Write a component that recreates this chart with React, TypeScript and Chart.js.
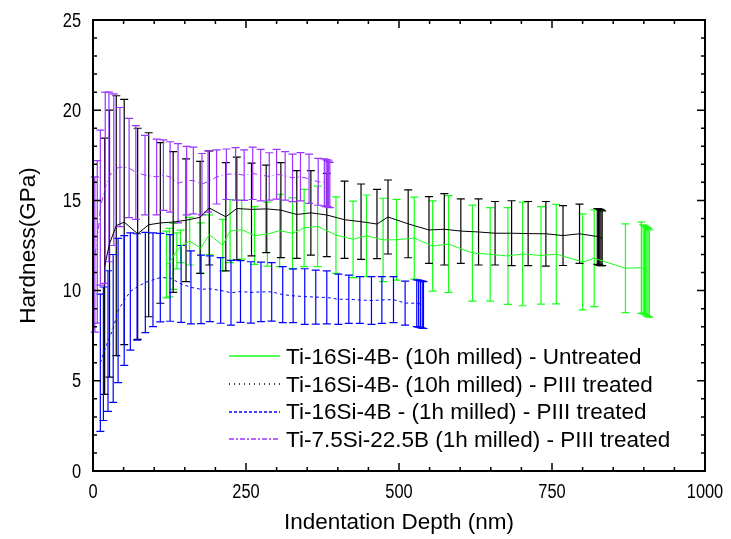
import React, { useEffect, useRef } from "react";
import { Chart, registerables } from "chart.js";
Chart.register(...registerables);

const xTicks = [0, 250, 500, 750, 1000];
const yTicks = [0, 5, 10, 15, 20, 25];
const xTitle = "Indentation Depth (nm)";
const yTitle = "Hardness(GPa)";

const seriesNames = [
  "Ti-16Si-4B- (10h milled) - Untreated",
  "Ti-16Si-4B- (10h milled) - PIII treated",
  "Ti-16Si-4B - (1h milled) - PIII treated",
  "Ti-7.5Si-22.5B (1h milled) - PIII treated",
];

const greenX = [120, 125, 131, 137, 143, 158, 176, 190, 212, 224, 243, 264, 285, 305, 326, 345, 367, 397, 425, 447, 474, 496, 525, 555, 581, 620, 649, 678, 702, 732, 757, 800, 819, 870, 896, 899, 901, 903, 905, 907, 909];
const greenY = [11.45, 11.55, 11.9, 12.2, 12.45, 12.74, 12.35, 13.1, 12.52, 13.3, 13.38, 13.05, 13.13, 13.33, 13.17, 13.47, 13.56, 13.08, 12.84, 13.04, 12.81, 12.82, 12.91, 12.47, 12.58, 12.08, 12.01, 11.92, 12.03, 11.95, 12.02, 11.59, 11.79, 11.24, 11.27, 11.2, 11.15, 11.1, 11.05, 11.0, 10.95];
const greenErr = [1.85, 1.9, 1.83, 1.0, 0.9, 1.32, 1.4, 1.1, 1.43, 1.75, 1.64, 1.6, 1.77, 2.0, 1.97, 2.14, 2.23, 2.12, 2.12, 2.26, 2.31, 2.24, 2.27, 2.5, 2.68, 2.66, 2.59, 2.68, 2.87, 2.7, 2.76, 2.66, 2.68, 2.46, 2.53, 2.45, 2.45, 2.45, 2.45, 2.45, 2.42];

const blackX = [19, 27, 38, 51, 73, 91, 110, 131, 152, 175, 190, 217, 235, 259, 283, 307, 333, 356, 382, 411, 438, 464, 482, 515, 549, 574, 601, 630, 657, 684, 711, 740, 768, 795, 824, 826, 828, 830, 832];
const blackY = [11.35, 12.6, 13.6, 13.8, 13.15, 13.65, 13.75, 13.8, 13.9, 14.06, 14.58, 14.09, 14.55, 14.5, 14.53, 14.46, 14.22, 14.31, 14.19, 13.93, 13.82, 13.69, 14.08, 13.7, 13.36, 13.4, 13.3, 13.25, 13.18, 13.18, 13.16, 13.15, 13.05, 13.15, 13.0, 12.98, 12.95, 12.93, 12.9];
const blackErr = [7.1, 7.4, 7.2, 6.8, 5.85, 5.1, 4.45, 3.9, 3.4, 3.1, 3.16, 3.0, 2.85, 2.57, 2.43, 2.63, 2.43, 2.34, 2.31, 2.14, 2.09, 1.92, 2.05, 1.88, 1.85, 1.98, 1.79, 1.83, 1.76, 1.8, 1.78, 1.79, 1.66, 1.64, 1.55, 1.55, 1.55, 1.55, 1.52];

const blueX = [12, 17, 24.5, 33, 41, 51, 61, 72, 85.5, 98, 110, 126, 144, 160, 176.5, 191, 208.6, 225.5, 241, 258, 274.5, 292, 310, 327, 346, 364, 382, 401, 418, 436, 455, 472, 491, 510, 529, 532, 535, 538, 540];
const blueY = [6.0, 6.5, 7.2, 7.9, 8.9, 9.45, 9.95, 10.2, 10.45, 10.6, 10.72, 10.7, 10.37, 10.18, 10.07, 10.1, 10.01, 9.88, 9.95, 9.9, 9.93, 9.93, 9.78, 9.71, 9.67, 9.64, 9.62, 9.52, 9.52, 9.48, 9.45, 9.48, 9.5, 9.31, 9.3, 9.28, 9.25, 9.22, 9.2];
const blueErr = [3.8, 3.7, 3.9, 4.1, 4.0, 3.6, 3.25, 2.95, 2.78, 2.6, 2.45, 2.4, 2.13, 2.02, 1.9, 1.82, 1.82, 1.79, 1.71, 1.7, 1.65, 1.62, 1.55, 1.49, 1.54, 1.5, 1.47, 1.39, 1.34, 1.3, 1.32, 1.3, 1.28, 1.22, 1.3, 1.3, 1.3, 1.3, 1.3];

const purpleX = [3, 7, 12, 20, 26, 34, 44, 59, 70, 85, 104, 115, 126, 139, 153, 164, 178, 188, 202, 218, 233, 247, 261, 274, 288, 300, 314, 326, 339, 353, 368, 378, 381, 383, 385, 387];
const purpleY = [12.0, 12.7, 14.6, 15.7, 16.3, 16.7, 16.85, 16.8, 16.55, 16.4, 16.3, 16.4, 16.3, 15.95, 16.1, 16.1, 15.9, 16.05, 16.3, 16.45, 16.47, 16.4, 16.5, 16.4, 16.33, 16.45, 16.36, 16.25, 16.31, 16.2, 16.03, 16.0, 15.95, 15.95, 15.9, 15.85];
const purpleErr = [4.3, 4.5, 4.3, 5.3, 4.7, 4.2, 3.3, 2.75, 2.6, 2.2, 2.1, 1.95, 1.95, 2.2, 1.9, 1.85, 1.7, 1.7, 1.5, 1.4, 1.45, 1.4, 1.45, 1.43, 1.31, 1.38, 1.34, 1.32, 1.34, 1.36, 1.3, 1.3, 1.3, 1.3, 1.28, 1.25];

const colors = ["#1aff1a", "#000000", "#0000ff", "#9933ff"];
const plotDash = [[], [], [3, 3], [6, 3, 1, 3]];
const legendDash = [[], [1, 4], [3, 2], [5, 2, 2, 2]];
const FONT = "'Liberation Sans', Arial, sans-serif";

export default function App() {
  const ref = useRef<HTMLCanvasElement>(null);

  useEffect(() => {
    const pts = (xs: number[], ys: number[]) => xs.map((x, i) => ({ x, y: ys[i] }));
    const errs = [greenErr, blackErr, blueErr, purpleErr];

    const plugin = {
      id: "custom-draw",
      beforeDatasetsDraw(chart: any) {
        const ctx = chart.ctx;
        const xs = chart.scales.x;
        const ys = chart.scales.y;
        ctx.save();
        ctx.lineWidth = 1.2;
        chart.data.datasets.forEach((ds: any, di: number) => {
          ctx.strokeStyle = colors[di];
          ds.data.forEach((p: any, i: number) => {
            const e = errs[di][i];
            const px = xs.getPixelForValue(p.x);
            const top = ys.getPixelForValue(p.y + e);
            const bot = ys.getPixelForValue(p.y - e);
            ctx.beginPath();
            ctx.moveTo(px, top);
            ctx.lineTo(px, bot);
            ctx.moveTo(px - 4, top);
            ctx.lineTo(px + 4, top);
            ctx.moveTo(px - 4, bot);
            ctx.lineTo(px + 4, bot);
            ctx.stroke();
          });
        });
        ctx.restore();
      },
      afterDraw(chart: any) {
        const ctx = chart.ctx;
        const xs = chart.scales.x;
        const ys = chart.scales.y;
        const L = xs.getPixelForValue(0);
        const R = xs.getPixelForValue(1000);
        const T = ys.getPixelForValue(25);
        const B = ys.getPixelForValue(0);
        ctx.save();
        ctx.strokeStyle = "#000";
        ctx.lineWidth = 2;
        ctx.strokeRect(L, T, R - L, B - T);
        ctx.lineWidth = 1.5;
        ctx.beginPath();
        for (let v = 0; v <= 1000; v += 50) {
          const px = xs.getPixelForValue(v);
          const len = v % 250 === 0 ? 8 : 4;
          ctx.moveTo(px, B);
          ctx.lineTo(px, B - len);
          ctx.moveTo(px, T);
          ctx.lineTo(px, T + len);
        }
        for (let v = 0; v <= 25; v += 1) {
          const py = ys.getPixelForValue(v);
          const len = v % 5 === 0 ? 8 : 4;
          ctx.moveTo(L, py);
          ctx.lineTo(L + len, py);
          ctx.moveTo(R, py);
          ctx.lineTo(R - len, py);
        }
        ctx.stroke();

        ctx.fillStyle = "#000";
        ctx.font = `20px ${FONT}`;
        const sx = 0.82;
        ctx.textAlign = "center";
        ctx.textBaseline = "top";
        xTicks.forEach((v) => {
          ctx.save();
          ctx.translate(xs.getPixelForValue(v), B + 11);
          ctx.scale(sx, 1);
          ctx.fillText(String(v), 0, 0);
          ctx.restore();
        });
        ctx.textAlign = "right";
        ctx.textBaseline = "middle";
        yTicks.forEach((v) => {
          ctx.save();
          ctx.translate(L - 12, ys.getPixelForValue(v) + 1);
          ctx.scale(sx, 1);
          ctx.fillText(String(v), 0, 0);
          ctx.restore();
        });

        ctx.font = `22.5px ${FONT}`;
        ctx.textAlign = "center";
        ctx.textBaseline = "alphabetic";
        ctx.fillText(xTitle, (L + R) / 2, 529);
        ctx.save();
        ctx.translate(35, (T + B) / 2);
        ctx.rotate(-Math.PI / 2);
        ctx.fillText(yTitle, 0, 0);
        ctx.restore();

        // legend
        const rowY = [356, 384, 411.5, 439];
        ctx.textAlign = "left";
        seriesNames.forEach((name, i) => {
          ctx.save();
          ctx.strokeStyle = colors[i];
          ctx.lineWidth = 1.5;
          ctx.setLineDash(legendDash[i]);
          ctx.beginPath();
          ctx.moveTo(229, Math.round(rowY[i]));
          ctx.lineTo(280, Math.round(rowY[i]));
          ctx.stroke();
          ctx.restore();
          ctx.fillStyle = "#000";
          ctx.fillText(name, 286, rowY[i] + 7.5);
        });
        ctx.restore();
      },
    };

    const chart = new Chart(ref.current as HTMLCanvasElement, {
      type: "line",
      data: {
        datasets: [
          { label: seriesNames[0], data: pts(greenX, greenY), borderColor: colors[0], borderDash: plotDash[0], borderWidth: 1 },
          { label: seriesNames[1], data: pts(blackX, blackY), borderColor: colors[1], borderDash: plotDash[1], borderWidth: 1 },
          { label: seriesNames[2], data: pts(blueX, blueY), borderColor: colors[2], borderDash: plotDash[2], borderWidth: 1 },
          { label: seriesNames[3], data: pts(purpleX, purpleY), borderColor: colors[3], borderDash: plotDash[3], borderWidth: 1 },
        ],
      },
      options: {
        animation: false,
        responsive: false,
        devicePixelRatio: 1,
        layout: { padding: { left: 93, top: 20, right: 26, bottom: 68 } },
        scales: {
          x: { type: "linear", min: 0, max: 1000, display: false },
          y: { type: "linear", min: 0, max: 25, display: false },
        },
        elements: { point: { radius: 0 }, line: { tension: 0, fill: false } },
        plugins: { legend: { display: false }, tooltip: { enabled: false } },
      },
      plugins: [plugin],
    });
    return () => chart.destroy();
  }, []);

  return (
    <div style={{ position: "fixed", left: 0, top: 0, width: 731, height: 539, background: "#fff" }}>
      <canvas ref={ref} width={731} height={539} style={{ display: "block" }} />
    </div>
  );
}
